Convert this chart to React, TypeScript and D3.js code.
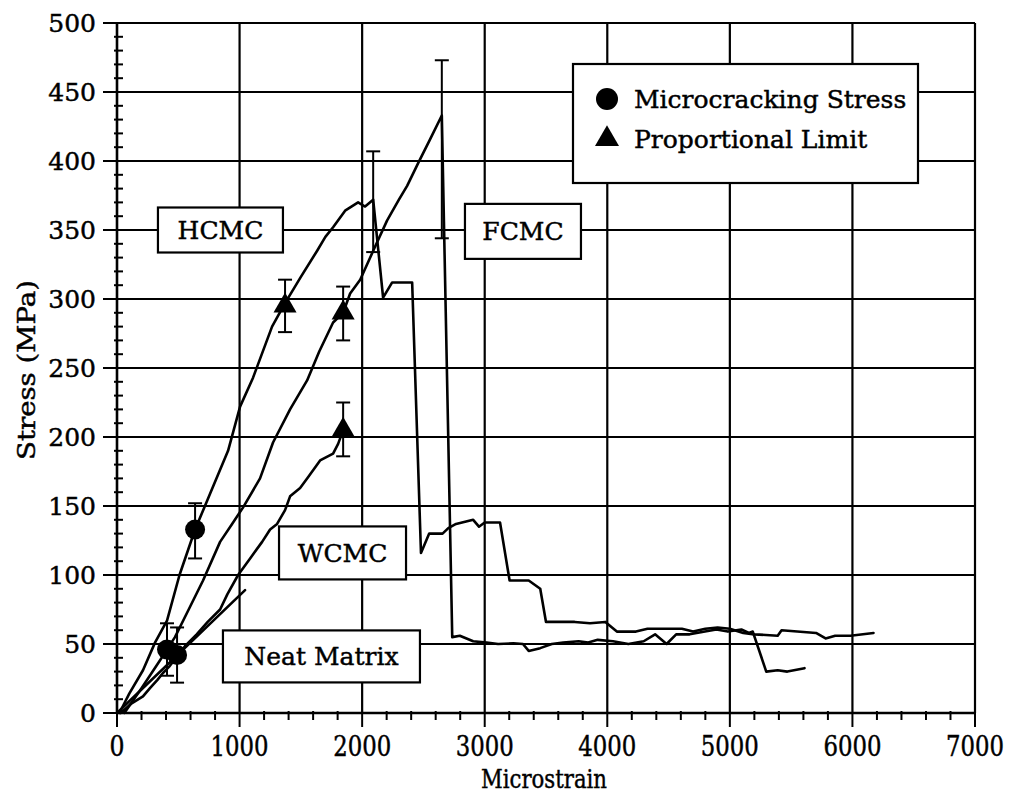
import React from 'react';
import * as d3 from 'd3';

type Pt = [number, number];

const xTicks = [0, 1000, 2000, 3000, 4000, 5000, 6000, 7000];
const yTicks = [0, 50, 100, 150, 200, 250, 300, 350, 400, 450, 500];

const HCMC: Pt[] = [
  [20, 0], [100, 14], [212, 31], [310, 51], [408, 67], [510, 100], [637, 133], [760, 159],
  [906, 190], [1004, 222], [1110, 243], [1265, 280], [1371, 297], [1500, 316], [1633, 335],
  [1700, 345], [1763, 352], [1861, 364], [1967, 370], [2024, 367], [2090, 372], [2171, 301],
  [2245, 312], [2408, 312], [2480, 116], [2547, 130], [2656, 130], [2703, 134], [2766, 137],
  [2906, 140], [2953, 135], [3000, 138], [3125, 138], [3203, 96], [3359, 96], [3453, 90],
  [3500, 66], [3734, 66], [3859, 65], [3984, 66], [4078, 59], [4234, 59], [4328, 61],
  [4609, 61], [4700, 59], [4800, 61], [4900, 62], [5000, 61], [5109, 58], [5200, 57],
  [5390, 56], [5422, 60], [5703, 58], [5781, 54], [5859, 56], [5984, 56], [6172, 58],
];

const FCMC: Pt[] = [
  [60, 0], [200, 18], [350, 38], [473, 55], [596, 77], [702, 96], [841, 124], [939, 137],
  [1029, 149], [1167, 170], [1273, 196], [1412, 220], [1551, 241], [1650, 262], [1763, 283],
  [1845, 290], [1902, 304], [1984, 314], [2106, 338], [2204, 357], [2300, 372], [2367, 382],
  [2460, 399], [2550, 415], [2650, 433], [2735, 55], [2797, 56], [2906, 52], [3016, 51],
  [3109, 50], [3234, 50.5], [3312, 50], [3359, 45], [3453, 47], [3547, 50], [3640, 51],
  [3766, 52], [3844, 51], [3922, 53], [4047, 52], [4172, 50], [4297, 52], [4390, 57],
  [4484, 50], [4562, 57], [4672, 57], [4797, 59], [4890, 60.5], [4984, 59], [5094, 60.5],
  [5156, 58], [5187, 59], [5297, 30], [5390, 31], [5469, 30], [5609, 32.5],
];

const WCMC: Pt[] = [
  [30, 0], [120, 7], [212, 12], [269, 18], [330, 24], [375, 29], [430, 34], [490, 41],
  [560, 49], [650, 57], [740, 66], [841, 75], [900, 86], [988, 100], [1086, 112], [1184, 124],
  [1249, 133], [1306, 137], [1371, 147], [1412, 157], [1494, 163], [1560, 171], [1657, 183],
  [1763, 188], [1804, 195], [1845, 205],
];

const NEAT: Pt[] = [[0, 0], [1045, 89]];

// Microcracking stress (circles): strain, stress, low, high
const microStrain = [408, 490, 637];
const microStress = [46, 42, 133];
const microLow = [27, 22, 112];
const microHigh = [65, 62, 152];

// Proportional limit (triangles)
const propStrain = [1371, 1845, 1845];
const propStress = [295, 290, 205];
const propLow = [276, 270, 186];
const propHigh = [314, 309, 225];

// Ultimate strength error bars (no marker)
const ultStrain = [2090, 2650];
const ultLow = [334, 344];
const ultHigh = [407, 473];

const labelText = ['HCMC', 'FCMC', 'WCMC', 'Neat Matrix'];

const FONT = '"DejaVu Serif", serif';

export default function App() {
  const x = d3.scaleLinear().domain([0, 7000]).range([117, 975]);
  const y = d3.scaleLinear().domain([0, 500]).range([713, 23]);
  const line = d3.line<Pt>().x((d) => x(d[0])).y((d) => y(d[1]));
  const tri = d3.symbol().type(d3.symbolTriangle).size(230)() as string;
  const triLegend = d3.symbol().type(d3.symbolTriangle).size(250)() as string;

  const xMinor = d3.range(0, 7001, 200).filter((v) => v % 1000 !== 0);
  const yMinor = d3.range(0, 501, 10).filter((v) => v % 50 !== 0);

  const labels = [
    { cx: x(844), cy: y(350), w: 125, h: 45 },
    { cx: x(3312), cy: y(349), w: 116, h: 55 },
    { cx: x(1840), cy: y(116), w: 127, h: 53 },
    { cx: x(1668), cy: y(41), w: 197, h: 52 },
  ];

  const errBar = (sx: number, lo: number, hi: number, key: string) => (
    <g key={key} stroke="#000" strokeWidth={2}>
      <line x1={x(sx)} x2={x(sx)} y1={y(lo)} y2={y(hi)} />
      <line x1={x(sx) - 7} x2={x(sx) + 7} y1={y(lo)} y2={y(lo)} />
      <line x1={x(sx) - 7} x2={x(sx) + 7} y1={y(hi)} y2={y(hi)} />
    </g>
  );

  const txt = { stroke: '#000', strokeWidth: 0.45, fill: '#000' };

  return (
    <div style={{ position: 'absolute', left: 0, top: 0 }}>
      <svg width={1011} height={793} style={{ display: 'block', background: '#fff' }} fontFamily={FONT}>
        <rect x={0} y={0} width={1011} height={793} fill="#fff" />
        <g stroke="#000" strokeWidth={2.2}>
          {xTicks.slice(1).map((t) => (
            <line key={'gx' + t} x1={x(t)} x2={x(t)} y1={y(0)} y2={y(500)} />
          ))}
          {yTicks.slice(1).map((t) => (
            <line key={'gy' + t} x1={x(0)} x2={x(7000)} y1={y(t)} y2={y(t)} />
          ))}
        </g>
        <g stroke="#000" strokeWidth={2.6}>
          <line x1={x(0)} x2={x(0)} y1={y(0) + 1} y2={y(500)} />
          <line x1={x(0)} x2={x(7000)} y1={y(0)} y2={y(0)} />
        </g>
        <g stroke="#000" strokeWidth={2}>
          {yTicks.map((t) => (
            <line key={'ty' + t} x1={x(0) - 14} x2={x(0)} y1={y(t)} y2={y(t)} />
          ))}
          {yMinor.map((t) => (
            <line key={'my' + t} x1={x(0) - 3} x2={x(0) + 6} y1={y(t)} y2={y(t)} />
          ))}
          {xTicks.map((t) => (
            <line key={'tx' + t} x1={x(t)} x2={x(t)} y1={y(0)} y2={y(0) + 14} />
          ))}
          {xMinor.map((t) => (
            <line key={'mx' + t} x1={x(t)} x2={x(t)} y1={y(0) - 2} y2={y(0) + 7} />
          ))}
        </g>
        <g fontSize={25} {...txt}>
          {yTicks.map((t) => (
            <text key={'ly' + t} x={96} y={y(t) + 9} textAnchor="end">
              {t}
            </text>
          ))}
          {xTicks.map((t) => (
            <text
              key={'lx' + t}
              x={x(t)}
              y={756}
              fontSize={27}
              textAnchor="middle"
              textLength={t === 0 ? 15 : 58}
              lengthAdjust="spacingAndGlyphs"
            >
              {t}
            </text>
          ))}
        </g>
        <text x={544} y={788} fontSize={26} textAnchor="middle" textLength={126} lengthAdjust="spacingAndGlyphs" {...txt}>
          Microstrain
        </text>
        <text
          transform={`translate(35,370) rotate(-90)`}
          fontSize={24}
          textAnchor="middle"
          textLength={180}
          lengthAdjust="spacingAndGlyphs"
          {...txt}
        >
          Stress (MPa)
        </text>
        {labels.map((l, i) => (
          <g key={'lb' + i}>
            <rect x={l.cx - l.w / 2} y={l.cy - l.h / 2} width={l.w} height={l.h} fill="#fff" stroke="#000" strokeWidth={2.2} />
            <text x={l.cx} y={l.cy + 9} fontSize={25} textAnchor="middle" {...txt}>
              {labelText[i]}
            </text>
          </g>
        ))}
        <g fill="none" stroke="#000" strokeWidth={2.6} strokeLinejoin="round" strokeLinecap="round">
          <path d={line(HCMC) || ''} />
          <path d={line(FCMC) || ''} />
          <path d={line(WCMC) || ''} />
          <path d={line(NEAT) || ''} />
        </g>
        {microStrain.map((s, i) => errBar(s, microLow[i], microHigh[i], 'em' + i))}
        {propStrain.map((s, i) => errBar(s, propLow[i], propHigh[i], 'ep' + i))}
        {ultStrain.map((s, i) => errBar(s, ultLow[i], ultHigh[i], 'eu' + i))}
        {microStrain.map((s, i) => (
          <circle key={'c' + i} cx={x(s)} cy={y(microStress[i])} r={10} fill="#000" />
        ))}
        {propStrain.map((s, i) => (
          <path key={'t' + i} d={tri} transform={`translate(${x(s)},${y(propStress[i])})`} fill="#000" />
        ))}
        <rect x={573} y={64} width={345} height={119} fill="#fff" stroke="#000" strokeWidth={2.2} />
        <circle cx={607} cy={99} r={11} fill="#000" />
        <text x={634} y={108} fontSize={25} {...txt}>
          Microcracking Stress
        </text>
        <path d={triLegend} transform="translate(607,139)" fill="#000" />
        <text x={634} y={148} fontSize={25} {...txt}>
          Proportional Limit
        </text>
      </svg>
    </div>
  );
}
